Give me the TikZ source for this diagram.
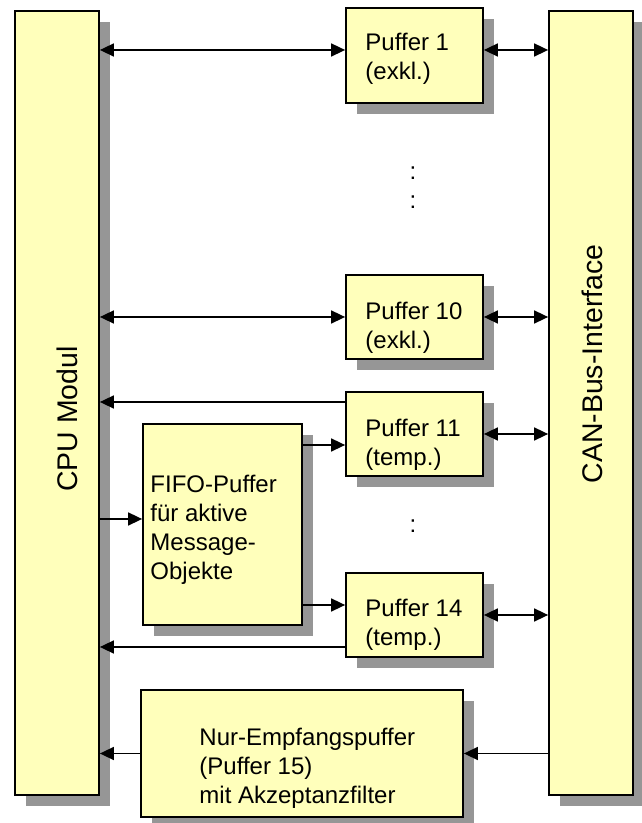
\documentclass[tikz,border=0pt]{standalone}
\usepackage{fontspec}
\setmainfont{Liberation Sans}
\usepackage{xcolor}
\usepackage{tikz}
\usetikzlibrary{arrows.meta, shadows}

\definecolor{boxyellow}{RGB}{255,255,187}
\definecolor{shadowgray}{RGB}{150,150,150}

\begin{document}
\begin{tikzpicture}[
    >={Triangle[length=2.8mm, width=2.6mm]},
    box/.style={draw, line width=1pt, fill=boxyellow,
        drop shadow={shadow xshift=2.2mm, shadow yshift=-2.2mm, fill=shadowgray, opacity=1}},
    puffer/.style={box, minimum width=2.74cm, minimum height=1.68cm},
    txt/.style={inner sep=0pt, align=left, anchor=west, font=\fontsize{13.66}{16.5}\selectfont},
    vtxt/.style={inner sep=0pt, rotate=90, font=\fontsize{16.17}{19}\selectfont},
    link/.style={line width=0.9pt}
]
    % Frame
    \useasboundingbox (0,0) rectangle (12.82,16.46);

    % CPU and CAN bus
    \node[box, minimum width=1.68cm, minimum height=15.68cm] (cpu) at (1.14,8.40) {};
    \node[vtxt] (cpu-t) at (1.35,8.08) {CPU Modul};
    \node[box, minimum width=1.68cm, minimum height=15.68cm] (can) at (11.82,8.40) {};
    \node[vtxt] (can-t) at (11.85,9.18) {CAN-Bus-Interface};

    % Puffer 1 .. 14
    \node[puffer, minimum height=1.90cm] (p1) at (8.29,15.35) {};
    \node[txt] (p1-t) at ([xshift=4mm, yshift=-0.6mm]p1.west) {Puffer 1\\(exkl.)};
    \node[puffer] (p10) at (8.29,10.12) {};
    \node[txt] (p10-t) at ([xshift=4mm, yshift=-2.1mm]p10.west) {Puffer 10\\(exkl.)};
    \node[puffer] (p11) at (8.29,7.78) {};
    \node[txt] (p11-t) at ([xshift=4mm, yshift=-2.2mm]p11.west) {Puffer 11\\(temp.)};
    \node[puffer] (p14) at (8.29,4.16) {};
    \node[txt] (p14-t) at ([xshift=4mm, yshift=-2mm]p14.west) {Puffer 14\\(temp.)};

    % FIFO and receive-only buffer
    \node[box, minimum width=3.18cm, minimum height=4.02cm] (fifo) at (4.45,5.97) {};
    \node[txt] (fifo-t) at ([xshift=1.6mm, yshift=-1mm]fifo.west) {FIFO-Puffer\\f\"ur aktive\\Message-\\Objekte};
    \node[box, minimum width=6.44cm, minimum height=2.54cm] (nur) at (6.04,1.39) {};
    \node[txt] (nur-t) at ([xshift=11.8mm, yshift=-3mm]nur.west) {Nur-Empfangspuffer\\(Puffer 15)\\mit Akzeptanzfilter};

    % Dots
    \node[txt, anchor=center, align=center] (dots-a) at (8.26,12.71) {:\\:};
    \node[txt, anchor=center] (dots-b) at (8.26,5.94) {:};

    % Exclusive buffers
    \coordinate (p1l) at ([yshift=1.1mm]p1.west);
    \coordinate (p1r) at ([yshift=1.1mm]p1.east);
    \draw[link, <->] (cpu.east |- p1l) -- (p1l);
    \draw[link, <->] (p1r) -- (can.west |- p1r);
    \draw[link, <->] (cpu.east |- p10.west) -- (p10.west);
    \draw[link, <->] (p10.east) -- (can.west |- p10.east);

    % Temporary buffers via FIFO
    \coordinate (p11out) at ([yshift=6.4mm]p11.west);
    \coordinate (p11in) at ([yshift=-2.2mm]p11.west);
    \coordinate (p14in) at ([yshift=2mm]p14.west);
    \coordinate (p14out) at ([yshift=-6.4mm]p14.west);
    \coordinate (fifoin) at ([yshift=1.1mm]fifo.west);
    \draw[link, ->] (p11out) -- (cpu.east |- p11out);
    \draw[link, ->] (fifo.east |- p11in) -- (p11in);
    \draw[link, ->] (cpu.east |- fifoin) -- (fifoin);
    \draw[link, ->] (fifo.east |- p14in) -- (p14in);
    \draw[link, ->] (p14out) -- (cpu.east |- p14out);
    \draw[link, <->] (p11.east) -- (can.west |- p11.east);
    \draw[link, <->] (p14.east) -- (can.west |- p14.east);

    % Receive-only buffer
    \draw[link, ->] (can.west |- nur.east) -- (nur.east);
    \draw[link, ->] (nur.west) -- (cpu.east |- nur.west);
\end{tikzpicture}
\end{document}
